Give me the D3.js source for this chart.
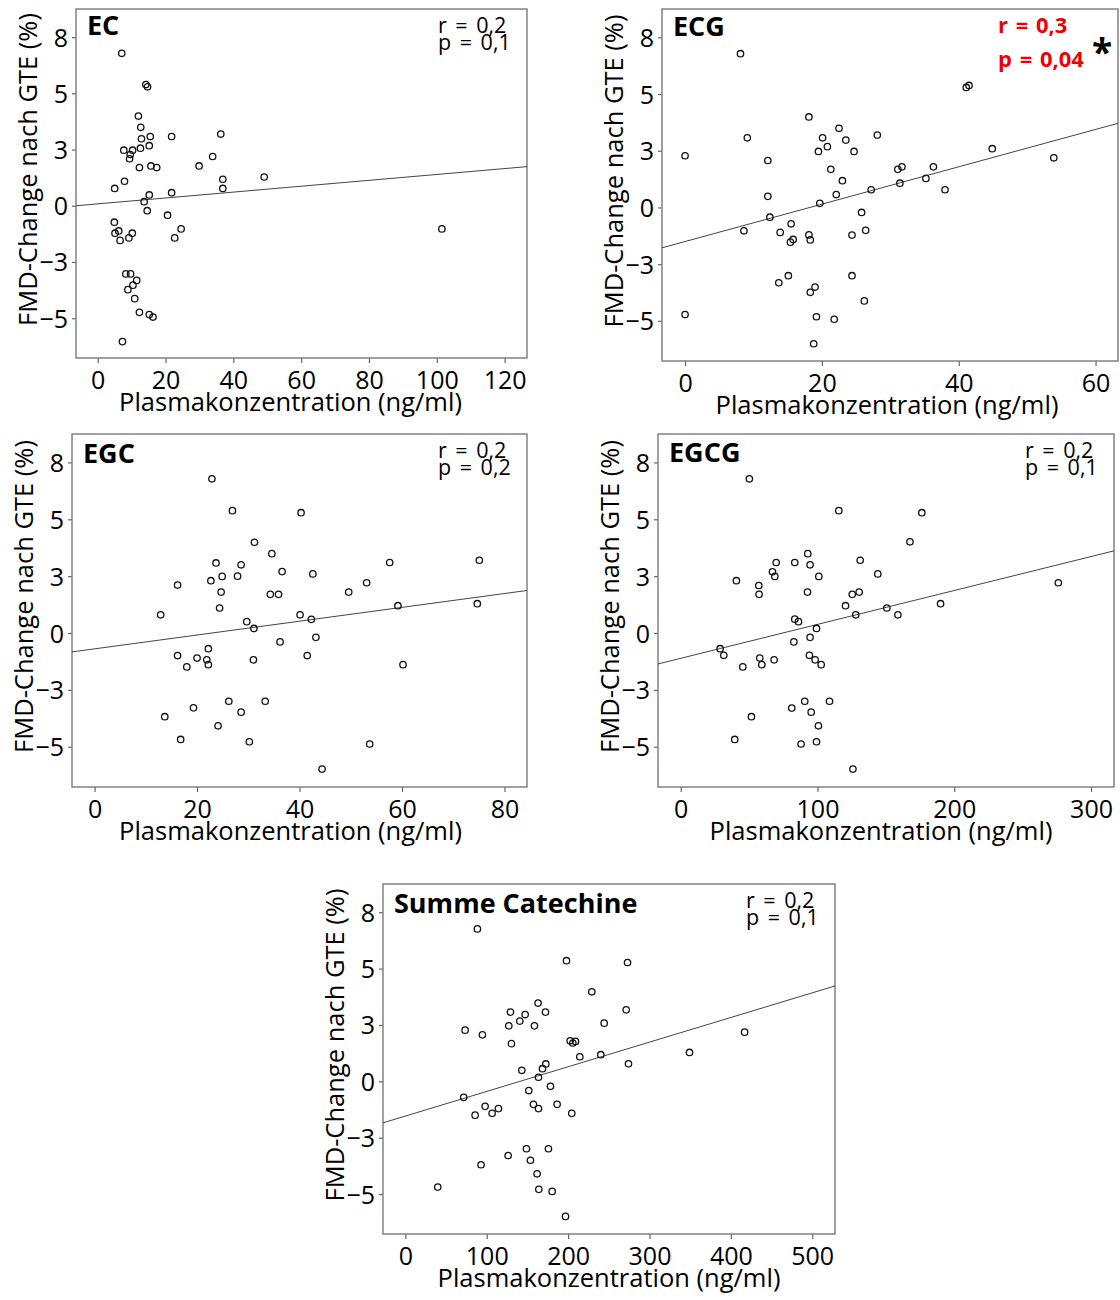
<!DOCTYPE html>
<html>
<head>
<meta charset="utf-8">
<script src="https://cdn.jsdelivr.net/npm/d3@7/dist/d3.min.js"></script>
<style>
  html, body { margin: 0; padding: 0; background: #ffffff; }
  svg { display: block; }
  text { font-family: "Open Sans", sans-serif; fill: #000; }
</style>
</head>
<body>
<svg id="chart" width="1120" height="1300"></svg>
<script>
// ---------------- DATA ----------------
const panelNames = ["EC", "ECG", "EGC", "EGCG", "Summe Catechine"];
const rTexts = ["r = 0,2", "r = 0,3", "r = 0,2", "r = 0,2", "r = 0,2"];
const pTexts = ["p = 0,1", "p = 0,04", "p = 0,2", "p = 0,1", "p = 0,1"];
const significant = [false, true, false, false, false];

const yTickValues = [-5, -2.5, 0, 2.5, 5, 7.5];
const yTickLabels = ["\u22125", "\u22123", "0", "3", "5", "8"];

const xTicksEC = [0, 20, 40, 60, 80, 100, 120];
const xTicksECG = [0, 20, 40, 60];
const xTicksEGC = [0, 20, 40, 60, 80];
const xTicksEGCG = [0, 100, 200, 300];
const xTicksSum = [0, 100, 200, 300, 400, 500];

const yTitle = "FMD-Change nach GTE (%)";
const xTitle = "Plasmakonzentration (ng/ml)";

// EC
const ecX = [7.1,14.2,14.7,12.0,12.7,12.9,15.5,21.8,36.3,7.7,10.3,9.6,9.4,12.6,15.2,33.9,29.9,12.3,15.7,17.4,36.9,36.9,49.1,7.9,5.0,15.2,21.8,13.7,14.6,20.6,4.9,5.1,6.2,6.6,10.2,9.2,22.7,24.6,8.3,9.7,11.5,10.4,8.9,10.9,12.3,15.2,16.3,7.3,101.5];
const ecY = [6.78,5.39,5.29,3.99,3.49,2.98,3.08,3.08,3.19,2.47,2.47,2.28,2.09,2.56,2.67,2.19,1.77,1.70,1.77,1.70,1.18,0.77,1.28,1.09,0.77,0.48,0.58,0.18,-0.22,-0.42,-0.73,-1.22,-1.12,-1.54,-1.22,-1.43,-1.43,-1.03,-3.03,-3.03,-3.32,-3.53,-3.73,-4.13,-4.74,-4.84,-4.95,-6.04,-1.03];

// ECG
const ecgX = [8.1,9.1,0,12.1,12.1,12.4,8.6,13.9,15.5,15.4,15.8,18.1,18.3,18.1,19.5,20.1,20.8,21.3,22.5,23.5,24.7,23.0,22.1,19.7,25.8,24.4,26.4,13.7,15.1,18.3,19.0,24.4,26.2,0,19.2,21.8,18.8,41.1,41.5,28.1,44.9,53.9,31.1,31.7,36.3,31.4,35.2,38.0,27.2];
const ecgY = [6.78,3.07,2.28,2.07,0.49,-0.43,-1.03,-1.10,-0.72,-1.53,-1.41,-1.21,-1.43,3.99,2.47,3.07,2.68,1.68,3.49,2.97,2.47,1.18,0.57,0.18,-0.22,-1.22,-1.01,-3.32,-3.01,-3.74,-3.51,-3.01,-4.12,-4.72,-4.82,-4.93,-6.01,5.29,5.38,3.19,2.59,2.19,1.68,1.79,1.79,1.07,1.28,0.78,0.78];

// EGC
const egcX = [22.9,26.9,31.2,34.6,23.7,28.6,22.7,24.9,27.9,16.2,24.7,24.4,12.9,29.7,31.1,34.3,35.9,36.6,36.2,16.2,18.0,20.0,22.2,21.9,22.2,31.0,26.2,33.3,19.3,28.6,13.7,24.1,16.8,30.2,40.3,42.6,57.6,75.1,53.1,49.6,59.2,74.7,40.1,42.3,43.2,41.5,60.2,53.7,44.4];
const egcY = [6.78,5.38,3.99,3.49,3.08,3.00,2.30,2.49,2.50,2.11,1.80,1.10,0.80,0.50,0.20,1.70,1.70,2.70,-0.39,-0.99,-1.49,-1.10,-0.69,-1.18,-1.39,-1.18,-3.00,-3.00,-3.29,-3.48,-3.68,-4.08,-4.68,-4.78,5.29,2.60,3.10,3.20,2.21,1.80,1.20,1.29,0.80,0.60,-0.19,-0.99,-1.39,-4.88,-5.98];

// EGCG
const egcgX = [50.2,115.6,92.9,83.4,69.8,94.6,67.1,68.8,101.0,131.2,40.7,57.1,57.3,92.7,125.4,130.5,120.5,128.0,83.4,86.1,99.3,94.6,82.7,28.8,31.5,45.4,57.8,59.3,68.3,94.1,98.3,102.7,90.7,108.8,81.2,95.4,51.7,100.7,39.5,88.0,99.3,125.9,176.3,167.6,144.1,276.1,190.0,150.7,158.8];
const egcgY = [6.78,5.38,3.49,3.10,3.10,3.00,2.69,2.49,2.49,3.20,2.30,2.09,1.70,1.80,1.70,1.80,1.20,0.80,0.61,0.50,0.20,-0.19,-0.39,-0.69,-0.98,-1.49,-1.10,-1.39,-1.18,-0.98,-1.18,-1.39,-3.00,-3.00,-3.30,-3.48,-3.68,-4.08,-4.68,-4.88,-4.78,-5.98,5.29,4.01,2.60,2.21,1.29,1.10,0.80];

// Summe Catechine
const sumX = [88.5,198.0,163.1,172.2,129.1,147.2,140.6,127.1,158.6,73.4,94.7,130.3,202.5,205.8,209.1,229.1,214.4,172.6,168.5,143.1,163.6,178.3,151.7,71.7,98.0,114.4,106.6,85.7,157.4,163.6,186.5,204.5,148.8,175.8,126.3,153.7,93.0,161.9,39.8,164.0,180.4,196.8,273.0,271.4,244.3,416.9,349.2,240.2,274.2];
const sumY = [6.76,5.35,3.47,3.07,3.07,2.96,2.67,2.46,2.46,2.27,2.06,1.67,1.80,1.70,1.77,3.97,1.09,0.77,0.56,0.49,0.18,-0.22,-0.41,-0.71,-1.11,-1.21,-1.42,-1.50,-1.02,-1.21,-1.02,-1.42,-2.99,-2.99,-3.29,-3.50,-3.70,-4.10,-4.69,-4.79,-4.88,-5.99,5.27,3.17,2.58,2.18,1.28,1.18,0.78];

// regression line (intercept, slope)
const fitIntercept = [0.084, -1.502, -0.696, -1.112, -1.540];
const fitSlope = [0.01308, 0.08237, 0.0304, 0.01491, 0.010927];

// x-axis domains (visible range of each panel)
const xDomainMin = [-6.4, -3.37, -4.41, -16.6, -27.5];
const xDomainMax = [126.6, 63.28, 84.4, 316.8, 528.0];
const yDomain = [-6.77, 8.75];

// ---------------- LAYOUT ----------------
const layout = [
  { left: 76,  right: 527,  top: 9,   bottom: 358,  xTitleShift: -11, labelDy: 26 },
  { left: 662, right: 1118, top: 9,   bottom: 361,  xTitleShift: -3,  labelDy: 27 },
  { left: 72,  right: 527,  top: 434, bottom: 787,  xTitleShift: -9,  labelDy: 29 },
  { left: 658, right: 1114, top: 434, bottom: 787,  xTitleShift: -5,  labelDy: 28 },
  { left: 383, right: 835,  top: 884, bottom: 1234, xTitleShift: 0,   labelDy: 29 }
];

const FONT = "Open Sans, sans-serif";

const panels = [
  { xs: ecX,   ys: ecY,   ticks: xTicksEC },
  { xs: ecgX,  ys: ecgY,  ticks: xTicksECG },
  { xs: egcX,  ys: egcY,  ticks: xTicksEGC },
  { xs: egcgX, ys: egcgY, ticks: xTicksEGCG },
  { xs: sumX,  ys: sumY,  ticks: xTicksSum }
];

const svg = d3.select("#chart");
svg.append("rect").attr("width", 1120).attr("height", 1300).attr("fill", "#fff");

panels.forEach((p, i) => {
  const L = layout[i];
  const x = d3.scaleLinear().domain([xDomainMin[i], xDomainMax[i]]).range([L.left, L.right]);
  const y = d3.scaleLinear().domain(yDomain).range([L.bottom, L.top]);
  const g = svg.append("g");

  // x axis
  const xa = g.append("g")
    .attr("transform", `translate(0,${L.bottom})`)
    .call(d3.axisBottom(x).tickValues(p.ticks).tickFormat(d3.format("d")).tickSize(5).tickPadding(8));
  xa.select(".domain").remove();
  xa.selectAll(".tick line").attr("stroke", "#666").attr("stroke-width", 1.2);
  xa.selectAll(".tick text").attr("font-size", 25).attr("font-family", FONT).attr("fill", "#000");

  // y axis
  const ya = g.append("g")
    .attr("transform", `translate(${L.left},0)`)
    .call(d3.axisLeft(y).tickValues(yTickValues).tickFormat((d, k) => yTickLabels[k]).tickSize(4).tickPadding(4));
  ya.select(".domain").remove();
  ya.selectAll(".tick line").attr("stroke", "#666").attr("stroke-width", 1.2);
  ya.selectAll(".tick text").attr("font-size", 25).attr("font-family", FONT).attr("fill", "#000").attr("dy", "0.36em");

  // frame
  g.append("rect")
    .attr("x", L.left).attr("y", L.top)
    .attr("width", L.right - L.left).attr("height", L.bottom - L.top)
    .attr("fill", "none").attr("stroke", "#7a7a7a").attr("stroke-width", 1.4);

  // regression line
  const x0 = xDomainMin[i], x1 = xDomainMax[i];
  g.append("line")
    .attr("x1", x(x0)).attr("y1", y(fitIntercept[i] + fitSlope[i] * x0))
    .attr("x2", x(x1)).attr("y2", y(fitIntercept[i] + fitSlope[i] * x1))
    .attr("stroke", "#444").attr("stroke-width", 1);

  // points
  g.append("g").selectAll("circle")
    .data(p.xs.map((v, k) => [v, p.ys[k]]))
    .join("circle")
    .attr("cx", d => x(d[0])).attr("cy", d => y(d[1]))
    .attr("r", 3.2)
    .attr("fill", "none").attr("stroke", "#111").attr("stroke-width", 1.3);

  // panel label
  g.append("text")
    .attr("x", L.left + 11).attr("y", L.top + L.labelDy)
    .attr("font-size", 27).attr("font-weight", "bold")
    .text(panelNames[i]);

  // r / p text
  if (significant[i]) {
    g.append("text").attr("x", L.right - 120).attr("y", L.top + 24)
      .attr("font-size", 22).attr("font-weight", "bold").attr("word-spacing", 2)
      .style("fill", "#f00000").text(rTexts[i]);
    g.append("text").attr("x", L.right - 120).attr("y", L.top + 58)
      .attr("font-size", 22).attr("font-weight", "bold").attr("word-spacing", 2)
      .style("fill", "#f00000").text(pTexts[i]);
    g.append("text").attr("x", L.right - 26).attr("y", L.top + 57)
      .attr("font-size", 37).attr("font-weight", "bold").text("*");
  } else {
    g.append("text").attr("x", L.right - 89).attr("y", L.top + 24)
      .attr("font-size", 21.5).attr("word-spacing", 3).text(rTexts[i]);
    g.append("text").attr("x", L.right - 89).attr("y", L.top + 41)
      .attr("font-size", 21.5).attr("word-spacing", 3).text(pTexts[i]);
  }

  // axis titles
  g.append("text")
    .attr("x", (L.left + L.right) / 2 + L.xTitleShift).attr("y", L.bottom + 53)
    .attr("text-anchor", "middle").attr("font-size", 25.5)
    .text(xTitle);
  const cy = (L.top + L.bottom) / 2 - 14;
  g.append("text")
    .attr("transform", `translate(${L.left - 39},${cy}) rotate(-90)`)
    .attr("text-anchor", "middle").attr("font-size", 25.5)
    .text(yTitle);
});
</script>
</body>
</html>
